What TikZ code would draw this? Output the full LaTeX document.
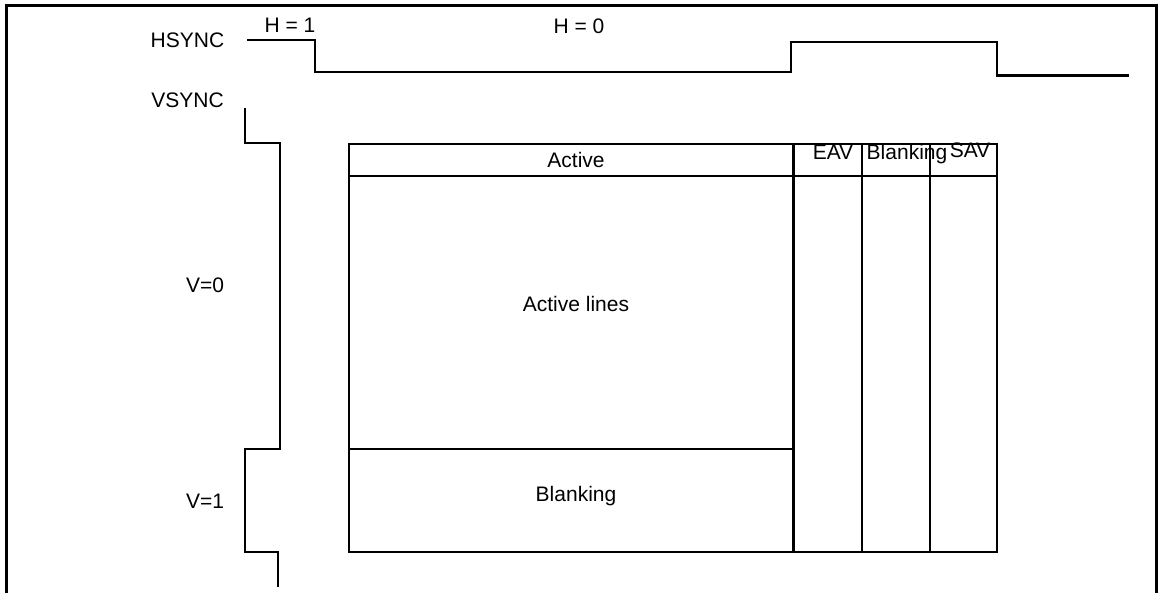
\documentclass[tikz,border=0pt]{standalone}
\usepackage{fontspec}
\setmainfont{Liberation Sans}
\begin{document}
\begin{tikzpicture}[x=1pt,y=-1pt,
  line/.style={line width=2.8pt, line join=miter},
  lbl/.style={anchor=base, inner sep=0pt, font=\fontsize{21}{25}\selectfont}]
\useasboundingbox (0,0) rectangle (1164,593);
% outer frame (open at bottom)
\draw[line] (6.5,593) -- (6.5,5.5) -- (1156.5,5.5) -- (1156.5,593);
% HSYNC waveform
\draw[line] (247,40) -- (315,40) -- (315,72) -- (791,72) -- (791,42) -- (997,42) -- (997,75.5) -- (1129,75.5);
% VSYNC waveform
\draw[line] (245,108) -- (245,143) -- (280,143) -- (280,449) -- (245,449) -- (245,552) -- (278,552) -- (278,587);
% main frame
\draw[line] (349,144) rectangle (997,552);
\draw[line] (349,176) -- (997,176);
\draw[line] (793.5,144) -- (793.5,552);
\draw[line] (862,144) -- (862,552);
\draw[line] (930,144) -- (930,552);
\draw[line] (349,449) -- (793.5,449);
% labels
\node[lbl] (hsync) at (187.5,48) {HSYNC};
\node[lbl] (vsync) at (187.5,108) {VSYNC};
\node[lbl] (h1) at (290,33) {H = 1};
\node[lbl] (h0) at (579,34) {H = 0};
\node[lbl] (v0) at (205,293) {V=0};
\node[lbl] (v1) at (205,508) {V=1};
\node[lbl] (act) at (576,168) {Active};
\node[lbl] (actl) at (576,312) {Active lines};
\node[lbl] (blk) at (576,501) {Blanking};
\node[lbl] (eav) at (833,160) {EAV};
\node[lbl] (blkh) at (907,160) {Blanking};
\node[lbl] (sav) at (970,158) {SAV};
\end{tikzpicture}
\end{document}
